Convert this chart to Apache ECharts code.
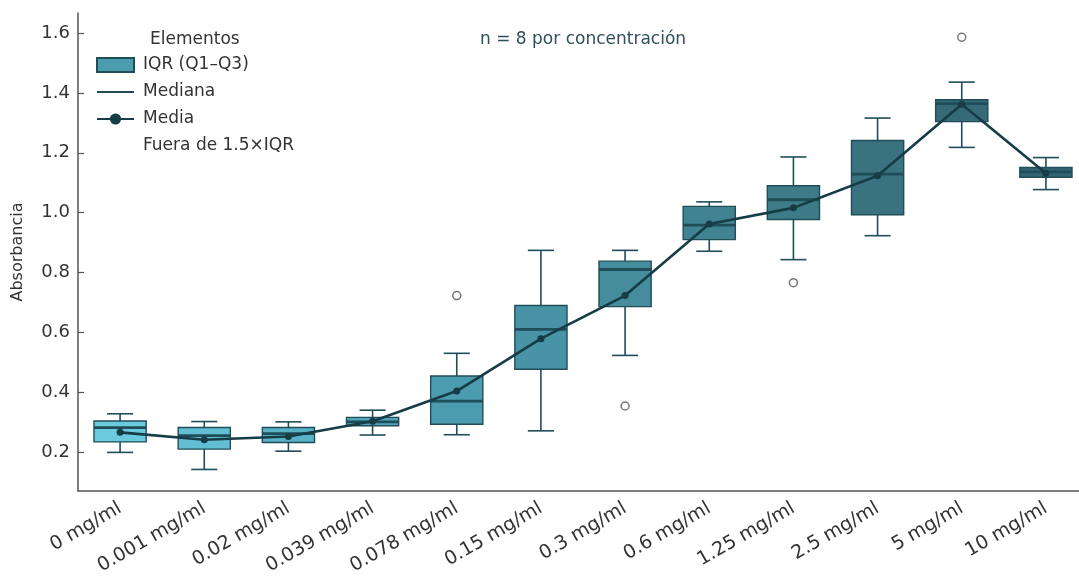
<!DOCTYPE html>
<html>
<head>
<meta charset="utf-8">
<script src="https://cdn.jsdelivr.net/npm/echarts@6/dist/echarts.min.js"></script>
<style>
html, body { margin: 0; background: #fff; }
#chart { width: 1079px; height: 586px; }
</style>
</head>
<body>
<div id="chart"></div>
<script>
// concentrations on the x axis
var categories = ['0 mg/ml', '0.001 mg/ml', '0.02 mg/ml', '0.039 mg/ml', '0.078 mg/ml', '0.15 mg/ml',
    '0.3 mg/ml', '0.6 mg/ml', '1.25 mg/ml', '2.5 mg/ml', '5 mg/ml', '10 mg/ml'];

// box statistics
var whiskerLow  = [0.199, 0.142, 0.203, 0.257, 0.258, 0.271, 0.523, 0.871, 0.843, 0.923, 1.218, 1.077];
var q1          = [0.234, 0.210, 0.232, 0.288, 0.293, 0.477, 0.686, 0.910, 0.977, 0.993, 1.304, 1.118];
var median      = [0.282, 0.255, 0.262, 0.301, 0.370, 0.610, 0.810, 0.958, 1.043, 1.129, 1.364, 1.136];
var q3          = [0.304, 0.282, 0.282, 0.316, 0.454, 0.690, 0.838, 1.021, 1.090, 1.241, 1.377, 1.151];
var whiskerHigh = [0.328, 0.302, 0.301, 0.340, 0.530, 0.874, 0.874, 1.036, 1.186, 1.316, 1.436, 1.184];
var means       = [0.266, 0.241, 0.252, 0.303, 0.404, 0.579, 0.723, 0.962, 1.016, 1.123, 1.362, 1.132];

// points outside 1.5xIQR: [category index, value]
var outliers = [[4, 0.723], [6, 0.354], [8, 0.766], [10, 1.586]];

var yTicks = [0.2, 0.4, 0.6, 0.8, 1.0, 1.2, 1.4, 1.6];

var boxColors = ['#6ccade', '#63bed4', '#5ab2c8', '#52a6bb', '#4c9caf', '#4894a6',
    '#458c9d', '#418393', '#3e7b89', '#3a727f', '#366a77', '#336471'];
var edgeColor = '#1f4d58';
var meanColor = '#163c46';

var boxRows = categories.map(function (c, i) {
    return [i, whiskerLow[i], q1[i], median[i], q3[i], whiskerHigh[i]];
});

function renderBox(params, api) {
    var i = api.value(0);
    var x = api.coord([i, api.value(3)])[0];
    var yLo = api.coord([i, api.value(1)])[1];
    var yQ1 = api.coord([i, api.value(2)])[1];
    var yMed = api.coord([i, api.value(3)])[1];
    var yQ3 = api.coord([i, api.value(4)])[1];
    var yHi = api.coord([i, api.value(5)])[1];
    var band = api.size([1, 0])[0];
    var half = band * 0.31;
    var cap = band * 0.155;
    var ln = { stroke: edgeColor, lineWidth: 1.6 };
    return {
        type: 'group',
        children: [
            { type: 'line', shape: { x1: x, y1: yLo, x2: x, y2: yQ1 }, style: ln },
            { type: 'line', shape: { x1: x, y1: yQ3, x2: x, y2: yHi }, style: ln },
            { type: 'line', shape: { x1: x - cap, y1: yLo, x2: x + cap, y2: yLo }, style: ln },
            { type: 'line', shape: { x1: x - cap, y1: yHi, x2: x + cap, y2: yHi }, style: ln },
            { type: 'rect', shape: { x: x - half, y: yQ3, width: half * 2, height: yQ1 - yQ3 },
              style: { fill: boxColors[i], stroke: edgeColor, lineWidth: 1.4 } },
            { type: 'line', shape: { x1: x - half, y1: yMed, x2: x + half, y2: yMed },
              style: { stroke: edgeColor, lineWidth: 2.8 } }
        ]
    };
}

var chart = echarts.init(document.getElementById('chart'));

var option = {
    backgroundColor: '#fff',
    animation: false,
    grid: { left: 78, width: 1010, top: 13, bottom: 95, outerBoundsMode: 'none', containLabel: false },
    textStyle: { fontFamily: 'DejaVu Sans' },
    legend: {
        orient: 'vertical',
        left: 91,
        top: 50,
        itemWidth: 37,
        itemHeight: 14,
        itemGap: 7,
        textStyle: { fontSize: 17, color: '#333', lineHeight: 20, padding: [0, 0, 0, 4] },
        data: [
            { name: 'IQR (Q1–Q3)', icon: 'rect' },
            { name: 'Mediana', itemStyle: { color: 'rgba(0,0,0,0)', borderWidth: 0 } },
            { name: 'Media' },
            { name: 'Fuera de 1.5×IQR', itemStyle: { opacity: 0 } }
        ]
    },
    graphic: [
        { type: 'text', left: 150, top: 31,
          style: { text: 'Elementos', fontSize: 17, fill: '#333', fontFamily: 'DejaVu Sans' } },
        { type: 'text', left: 480, top: 31,
          style: { text: 'n = 8 por concentración', fontSize: 17, fill: '#2f4f5a', fontFamily: 'DejaVu Sans' } }
    ],
    xAxis: {
        type: 'category',
        data: categories,
        boundaryGap: true,
        axisLine: { lineStyle: { color: '#555', width: 1.5 } },
        axisTick: { alignWithLabel: true, inside: true, length: 6, lineStyle: { color: '#555', width: 1.2 } },
        axisLabel: { rotate: 30, fontSize: 19, color: '#333', margin: 16, interval: 0 }
    },
    yAxis: {
        type: 'value',
        min: 0.07,
        max: 1.667,
        name: 'Absorbancia',
        nameLocation: 'middle',
        nameGap: 52,
        nameTextStyle: { fontSize: 16, color: '#333' },
        splitLine: { show: false },
        axisLine: { show: true, lineStyle: { color: '#555', width: 1.5 } },
        axisTick: { show: true, inside: true, length: 6, customValues: yTicks, lineStyle: { color: '#555', width: 1.2 } },
        axisLabel: { fontSize: 18, color: '#333', margin: 8, customValues: yTicks,
            formatter: function (v) { return v.toFixed(1); } }
    },
    series: [
        {
            name: 'IQR (Q1–Q3)',
            type: 'custom',
            renderItem: renderBox,
            data: boxRows,
            encode: { x: 0, y: [1, 2, 3, 4, 5] },
            itemStyle: { color: '#4c9caf', borderColor: edgeColor, borderWidth: 1.5 },
            z: 2
        },
        {
            name: 'Mediana',
            type: 'line',
            data: [],
            symbol: 'none',
            lineStyle: { color: edgeColor, width: 2.6 },
            itemStyle: { color: edgeColor }
        },
        {
            name: 'Media',
            type: 'line',
            data: means,
            symbol: 'circle',
            symbolSize: 7,
            showSymbol: true,
            lineStyle: { color: meanColor, width: 2.6 },
            itemStyle: { color: meanColor },
            z: 5
        },
        {
            name: 'Fuera de 1.5×IQR',
            type: 'scatter',
            data: outliers,
            symbol: 'circle',
            symbolSize: 8,
            itemStyle: { color: '#fff', borderColor: '#555', borderWidth: 1.5 },
            z: 4
        }
    ]
};

chart.setOption(option);
</script>
</body>
</html>
